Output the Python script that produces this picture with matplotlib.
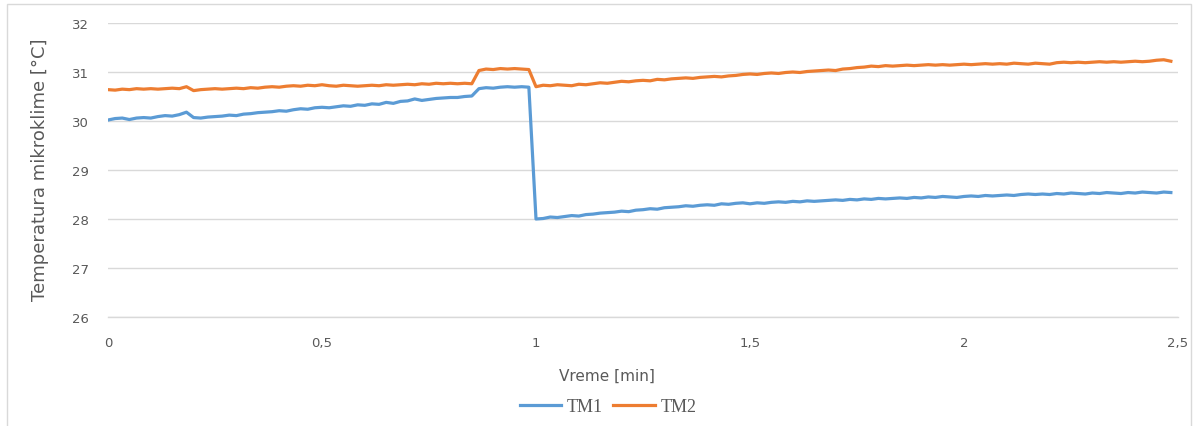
import numpy as np
import matplotlib
matplotlib.use("Agg")
import matplotlib.pyplot as plt
from matplotlib.patches import Rectangle

# time base: one reading per second, shown in minutes
seconds = np.arange(150)
time_min = seconds / 60.0

# T_M1 (blue)
t_m1 = [
    30.02, 30.05, 30.06, 30.03, 30.06, 30.07, 30.06, 30.09, 30.11, 30.10, 30.13, 30.18,
    30.07, 30.06, 30.08, 30.09, 30.10, 30.12, 30.11, 30.14, 30.15, 30.17, 30.18,
    30.19, 30.21, 30.20, 30.23, 30.25, 30.24, 30.27, 30.28,
    30.27, 30.29, 30.31, 30.30, 30.33, 30.32, 30.35, 30.34, 30.38, 30.36,
    30.40, 30.41, 30.45, 30.42, 30.44, 30.46, 30.47, 30.48, 30.48, 30.50, 30.51,
    30.66, 30.68, 30.67, 30.69, 30.70, 30.69, 30.70, 30.69,
    28.00, 28.01, 28.04, 28.03, 28.05, 28.07, 28.06, 28.09, 28.10, 28.12, 28.13,
    28.14, 28.16, 28.15, 28.18, 28.19, 28.21, 28.20, 28.23, 28.24, 28.25,
    28.27, 28.26, 28.28, 28.29, 28.28, 28.31, 28.30, 28.32, 28.33, 28.31,
    28.33, 28.32, 28.34, 28.35, 28.34, 28.36, 28.35, 28.37, 28.36, 28.37,
    28.38, 28.39, 28.38, 28.40, 28.39, 28.41, 28.40, 28.42, 28.41, 28.42,
    28.43, 28.42, 28.44, 28.43, 28.45, 28.44, 28.46, 28.45, 28.44, 28.46,
    28.47, 28.46, 28.48, 28.47, 28.48, 28.49, 28.48, 28.50, 28.51, 28.50,
    28.51, 28.50, 28.52, 28.51, 28.53, 28.52, 28.51, 28.53, 28.52, 28.54,
    28.53, 28.52, 28.54, 28.53, 28.55, 28.54, 28.53, 28.55, 28.54,
]

# T_M2 (orange)
t_m2 = [
    30.64, 30.63, 30.65, 30.64, 30.66, 30.65, 30.66, 30.65, 30.66, 30.67, 30.66, 30.70,
    30.62, 30.64, 30.65, 30.66, 30.65, 30.66, 30.67, 30.66, 30.68, 30.67, 30.69,
    30.70, 30.69, 30.71, 30.72, 30.71, 30.73, 30.72, 30.74,
    30.72, 30.71, 30.73, 30.72, 30.71, 30.72, 30.73, 30.72, 30.74, 30.73,
    30.74, 30.75, 30.74, 30.76, 30.75, 30.77, 30.76, 30.77, 30.76, 30.77, 30.76,
    31.03, 31.06, 31.05, 31.07, 31.06, 31.07, 31.06, 31.05,
    30.70, 30.73, 30.72, 30.74, 30.73, 30.72, 30.75, 30.74, 30.76, 30.78, 30.77,
    30.79, 30.81, 30.80, 30.82, 30.83, 30.82, 30.85, 30.84, 30.86, 30.87,
    30.88, 30.87, 30.89, 30.90, 30.91, 30.90, 30.92, 30.93, 30.95, 30.96,
    30.95, 30.97, 30.98, 30.97, 30.99, 31.00, 30.99, 31.01, 31.02, 31.03,
    31.04, 31.03, 31.06, 31.07, 31.09, 31.10, 31.12, 31.11, 31.13, 31.12,
    31.13, 31.14, 31.13, 31.14, 31.15, 31.14, 31.15, 31.14, 31.15, 31.16,
    31.15, 31.16, 31.17, 31.16, 31.17, 31.16, 31.18, 31.17, 31.16, 31.18,
    31.17, 31.16, 31.19, 31.20, 31.19, 31.20, 31.19, 31.20, 31.21, 31.20,
    31.21, 31.20, 31.21, 31.22, 31.21, 31.22, 31.24, 31.25, 31.22,
]

x_ticks = [0, 0.5, 1, 1.5, 2, 2.5]
x_tick_labels = ["0", "0,5", "1", "1,5", "2", "2,5"]
y_ticks = [26, 27, 28, 29, 30, 31, 32]

text_gray = "#595959"
grid_gray = "#d9d9d9"

fig = plt.figure(figsize=(11.98, 4.27), dpi=100)
ax = fig.add_axes([108 / 1198, 1 - 318 / 427, (1178 - 108) / 1198, (318 - 24) / 427])

ax.plot(time_min, t_m1, color="#5B9BD5", lw=2.3, label="TM1", solid_joinstyle="round")
ax.plot(time_min, t_m2, color="#ED7D31", lw=2.3, label="TM2", solid_joinstyle="round")

ax.set_xlim(0, 2.5)
ax.set_ylim(26, 32)
ax.set_xticks(x_ticks)
ax.set_xticklabels(x_tick_labels)
ax.set_yticks(y_ticks)
ax.tick_params(length=0, labelsize=9.5, labelcolor=text_gray)
ax.tick_params(axis="x", pad=14)
ax.tick_params(axis="y", pad=14)
ax.grid(axis="y", color=grid_gray, lw=1)
ax.set_axisbelow(True)
for s in ax.spines.values():
    s.set_visible(False)
ax.spines["bottom"].set_visible(True)
ax.spines["bottom"].set_color(grid_gray)
ax.spines["bottom"].set_linewidth(1)

fig.text(40 / 1198, 1 - 170 / 427, "Temperatura mikroklime [°C]", rotation=90,
         ha="center", va="center", fontsize=13, color=text_gray)
fig.text(607 / 1198, 1 - 376 / 427, "Vreme [min]", ha="center", va="center",
         fontsize=11, color=text_gray)

leg = fig.legend(loc="center", bbox_to_anchor=(608 / 1198, 1 - 408 / 427), ncol=2,
                 frameon=False, handlelength=2.3, columnspacing=0.6, handletextpad=0.3,
                 prop={"family": "Liberation Serif", "size": 13})
for t in leg.get_texts():
    t.set_color(text_gray)

# light frame around the whole chart
fig.patches.append(Rectangle((7 / 1198, -0.01), 1184 / 1198, 1 - 5 / 427 + 0.01,
                             transform=fig.transFigure, fill=False,
                             edgecolor="#d9d9d9", lw=1))

fig.savefig("out.png", dpi=100)
